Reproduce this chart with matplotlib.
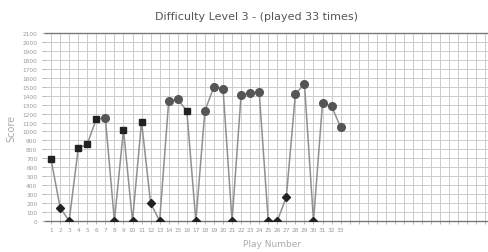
import numpy as np
import matplotlib.pyplot as plt

plays = list(range(1, 34))
scores = [690, 150, 0, 810, 860, 1140, 1150, 0, 1020, 0,
          1110, 200, 0, 1340, 1360, 1230, 0, 1230, 1500, 1480,
          0, 1410, 1430, 1440, 0, 0, 270, 1420, 1530, 0,
          1320, 1280, 1050]
shapes = ['s', 'D', 'D', 's', 's', 's', 'o', 'D', 's', 'D',
          's', 'D', 'D', 'o', 'o', 's', 'D', 'o', 'o', 'o',
          'D', 'o', 'o', 'o', 'D', 'D', 'D', 'o', 'o', 'D',
          'o', 'o', 'o']

fig = plt.figure(figsize=(4.89, 2.53), dpi=100)
ax = fig.add_axes([45/489, 31/253, 454/489, 188/253])

ax.set_xlim(0.33, 50.5)
ax.set_ylim(0, 2100)
ax.set_xticks(np.arange(1, 51))
ax.set_yticks(np.arange(0, 2200, 100))
ax.grid(True, color='#cccccc', lw=0.7)
ax.set_axisbelow(True)

# marker sizes per shape
sizes = {'o': 5.5, 's': 5.0, 'D': 4.0}
ax.plot(plays, scores, color='#909090', lw=1.1, zorder=2)
for x, y, m in zip(plays, scores, shapes):
    c = '#555555' if m == 'o' else '#222222'
    ax.plot(x, y, marker=m, color=c, ms=sizes[m], zorder=3, ls='none')

ax.set_xticklabels([str(i) if i <= 33 else '' for i in range(1, 51)])
ax.tick_params(axis='both', labelsize=4.2, colors='#999999', length=2, width=0.5)
ax.tick_params(axis='x', pad=2.5)

for s in ['left', 'right']:
    ax.spines[s].set_visible(False)
for s in ['top', 'bottom']:
    ax.spines[s].set_color('#777777')
    ax.spines[s].set_linewidth(1.0)

ax.set_ylabel('Score', fontsize=7, color='#aaaaaa', labelpad=4)
ax.set_xlabel('Play Number', fontsize=6.5, color='#aaaaaa', labelpad=5)
fig.text(257/489, 1 - 17/253, 'Difficulty Level 3 - (played 33 times)',
         ha='center', va='center', fontsize=8, color='#555555')

fig.savefig('out.png', dpi=100)
